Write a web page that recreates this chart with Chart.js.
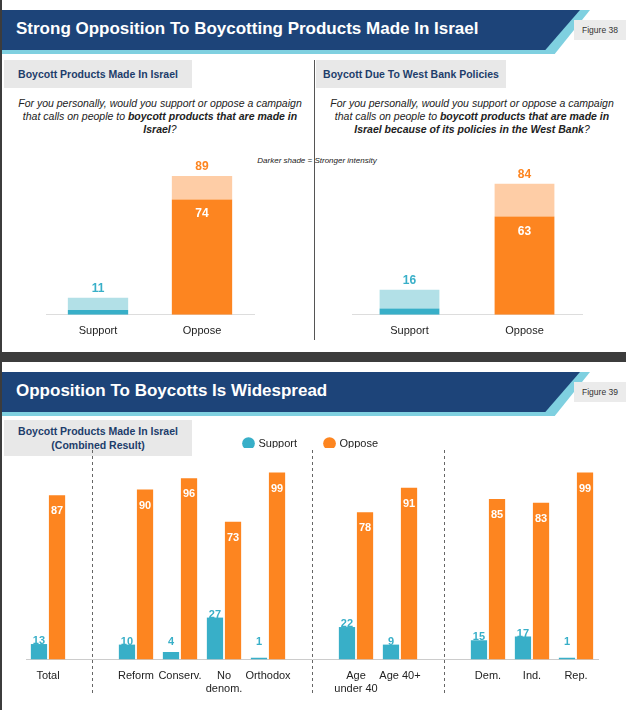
<!DOCTYPE html>
<html><head><meta charset="utf-8">
<script src="https://cdn.jsdelivr.net/npm/chart.js@4.4.0/dist/chart.umd.min.js"></script>
<style>
body{margin:0;width:626px;height:710px;background:#3c3c3c;font-family:"Liberation Sans",Arial,sans-serif;position:relative;overflow:hidden}
.panel{position:absolute;left:2px;width:624px;background:#fff}
.hdr{position:absolute;left:0;top:10px;width:578px;height:40px;background:#1d4479;clip-path:polygon(0 0,100% 0,94% 100%,0 100%);color:#fff;font-weight:bold;font-size:17px;line-height:38px;padding-left:14px;box-sizing:border-box}
.stripe{position:absolute;left:0;top:10px;width:588px;height:44px;background:#7fd0e0;clip-path:polygon(0 0,100% 0,94% 100%,0 100%)}
.fig{position:absolute;right:0;top:20px;width:52px;height:20px;background:#ebebeb;font-size:8.5px;line-height:20px;text-align:center;color:#333}
.sub{position:absolute;background:#e8e8e8;color:#1d3d6b;font-weight:bold;font-size:10.5px;text-align:center;white-space:nowrap}
.q{position:absolute;font-style:italic;font-size:10.5px;text-align:center;color:#222;line-height:13px}
canvas{position:absolute}
</style></head><body>
<div class="panel" style="top:0;height:352px">
 <div class="stripe"></div><div class="hdr">Strong Opposition To Boycotting Products Made In Israel</div>
 <div class="fig">Figure 38</div>
 <div class="sub" style="left:2px;top:60px;width:188px;height:28px;line-height:28px">Boycott Products Made In Israel</div>
 <div class="sub" style="left:314px;top:60px;width:190px;height:28px;line-height:28px">Boycott Due To West Bank Policies</div>
 <div style="position:absolute;left:312px;top:60px;width:1px;height:280px;background:#555"></div>
 <div class="q" style="left:12px;top:97px;width:292px">For you personally, would you support or oppose a campaign that calls on people to <b>boycott products that are made in Israel</b>?</div>
 <div class="q" style="left:324px;top:97px;width:292px">For you personally, would you support or oppose a campaign that calls on people to <b>boycott products that are made in Israel because of its policies in the West Bank</b>?</div>
 <div class="q" style="left:200px;top:154px;width:230px;font-size:8px">Darker shade = Stronger intensity</div>
</div>
<div class="panel" style="top:362px;height:348px">
 <div class="stripe"></div><div class="hdr">Opposition To Boycotts Is Widespread</div>
 <div class="fig">Figure 39</div>
 <div class="sub" style="left:2px;top:58px;width:188px;height:36px;line-height:14px;padding-top:4px;box-sizing:border-box">Boycott Products Made In Israel<br>(Combined Result)</div>
</div>
<canvas id="c1" style="left:40px;top:148px" width="220" height="192"></canvas>
<canvas id="c2" style="left:346px;top:148px" width="242" height="192"></canvas>
<canvas id="c3" style="left:20px;top:410px" width="584" height="300"></canvas>
<script>
const topCats=["Support","Oppose"];
const israelTotal=[11,89], israelStrong=[3,74];
const westBankTotal=[16,84], westBankStrong=[4,63];
const cats=["Total","","Reform","Conserv.",["No","denom."],"Orthodox","",["Age","under 40"],"Age 40+","","Dem.","Ind.","Rep."];
const support=[13,null,10,4,27,1,null,22,9,null,15,17,1];
const oppose=[87,null,90,96,73,99,null,78,91,null,85,83,99];
const TEAL="#38afc8",ORANGE="#fd8520",LTEAL="#b2e0e7",LORANGE="#fecda6";
Chart.defaults.font.family='"Liberation Sans",Arial,sans-serif';
Chart.defaults.animation=false;
function topChart(id,tot,str,bp){
 new Chart(document.getElementById(id),{type:'bar',
  data:{labels:topCats,datasets:[
   {data:str,backgroundColor:[TEAL,ORANGE],barPercentage:bp,categoryPercentage:1},
   {data:tot.map((t,i)=>t-str[i]),backgroundColor:[LTEAL,LORANGE],barPercentage:bp,categoryPercentage:1}]},
  options:{responsive:false,plugins:{legend:{display:false},tooltip:{enabled:false}},layout:{padding:{left:6,right:6}},
   scales:{x:{stacked:true,grid:{display:false},border:{color:'#ddd'},ticks:{color:'#222',font:{size:11},padding:2}},
    y:{stacked:true,display:false,min:0,max:107}}},
  plugins:[{id:'lbl',afterDatasetsDraw(c){const ctx=c.ctx;ctx.save();ctx.textAlign='center';ctx.font='bold 12px "Liberation Sans"';
   const m0=c.getDatasetMeta(0),m1=c.getDatasetMeta(1);
   tot.forEach((t,i)=>{const b=m1.data[i];ctx.fillStyle=i?ORANGE:TEAL;ctx.fillText(t,b.x,b.y-6);});
   const b=m0.data[1];ctx.fillStyle='#fff';ctx.fillText(str[1],b.x,b.y+18);ctx.restore();}}]});
}
topChart('c1',israelTotal,israelStrong,0.58);
topChart('c2',westBankTotal,westBankStrong,0.52);
new Chart(document.getElementById('c3'),{type:'bar',
 data:{labels:cats,datasets:[
  {label:'Support',data:support,backgroundColor:TEAL,barPercentage:0.9,categoryPercentage:0.82},
  {label:'Oppose',data:oppose,backgroundColor:ORANGE,barPercentage:0.9,categoryPercentage:0.82}]},
 options:{responsive:false,layout:{padding:{left:6,right:6,top:0,bottom:12}},
  plugins:{tooltip:{enabled:false},legend:{display:true,align:'start',labels:{usePointStyle:true,pointStyle:'circle',boxWidth:9,boxHeight:9,padding:28,color:'#222',font:{size:11}}}},
  scales:{x:{grid:{display:false},border:{color:'#ccc'},ticks:{color:'#222',font:{size:11},autoSkip:false,maxRotation:0,padding:2}},
   y:{display:false,min:0,max:112}}},
 plugins:[{id:'legpos',afterInit(c){const f=c.legend.fit;c.legend.fit=function(){f.call(this);this.height=38;};},
  afterUpdate(c){const l=c.legend;const dx=190;l.left+=dx;l.legendHitBoxes.forEach(h=>{h.left+=dx;h.top-=6;});}},
  {id:'sep',beforeDatasetsDraw(c){const ctx=c.ctx,x=c.scales.x,a=c.chartArea;ctx.save();ctx.strokeStyle='#666';ctx.setLineDash([3,3]);ctx.lineWidth=1;
   [1,6,9].forEach(i=>{const px=Math.round(x.getPixelForValue(i))+0.5;ctx.beginPath();ctx.moveTo(px,a.top+2);ctx.lineTo(px,a.bottom+36);ctx.stroke();});ctx.restore();},
  afterDatasetsDraw(c){const ctx=c.ctx;ctx.save();ctx.textAlign='center';ctx.font='bold 11px "Liberation Sans"';
   const m0=c.getDatasetMeta(0),m1=c.getDatasetMeta(1);
   oppose.forEach((v,i)=>{if(v==null)return;const b=m1.data[i];ctx.fillStyle='#fff';ctx.fillText(v,b.x,b.y+16);});
   support.forEach((v,i)=>{if(v==null)return;const b=m0.data[i];const y=Math.min(b.y+10,b.base-14);
    ctx.fillStyle='#fff';ctx.fillRect(b.x-9,y-16,18,15);ctx.fillStyle=TEAL;ctx.fillText(v,b.x,y-4);});
   ctx.restore();}}]});
</script></body></html>
